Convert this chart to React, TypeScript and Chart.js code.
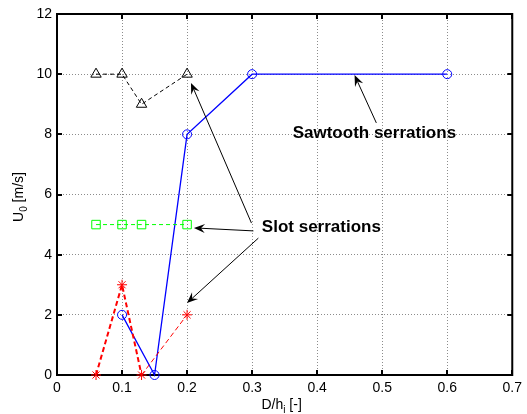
import React, { useEffect, useRef } from "react";
import { Chart, registerables } from "chart.js";

Chart.register(...registerables);

// ---- data ----
const slotX = [0.06, 0.1, 0.13, 0.2];
const slotTriangleU = [10, 10, 9, 10];
const slotSquareU = [5, 5, 5, 5];
const slotStarU = [0, 3, 0, 2];
const sawX = [0.1, 0.15, 0.2, 0.3, 0.6];
const sawU = [2, 0, 8, 10, 10];

const xMin = 0;
const xMax = 0.7;
const xStep = 0.1;
const yMin = 0;
const yMax = 12;
const yStep = 2;

const labelSawtooth = "Sawtooth serrations";
const labelSlot = "Slot serrations";

// annotation anchors in data units
const sawTextPos = { x: 0.488, y: 8.04 };
const slotTextPos = { x: 0.4065, y: 4.92 };
const sawArrows = [{ from: { x: 0.491, y: 8.38 }, to: { x: 0.4575, y: 9.97 } }];
const slotArrows = [
  { from: { x: 0.299, y: 5.05 }, to: { x: 0.206, y: 9.71 } },
  { from: { x: 0.302, y: 4.79 }, to: { x: 0.2105, y: 4.89 } },
  { from: { x: 0.3096, y: 4.55 }, to: { x: 0.1998, y: 2.39 } },
];

const FONT = '"Liberation Sans", Arial, Helvetica, sans-serif';

const pts = (xs: number[], ys: number[]) => xs.map((x, i) => ({ x, y: ys[i] }));

function drawArrow(ctx: CanvasRenderingContext2D, x1: number, y1: number, x2: number, y2: number) {
  const ang = Math.atan2(y2 - y1, x2 - x1);
  const len = 11;
  const half = 4.5;
  const back = 7;
  ctx.save();
  ctx.strokeStyle = "#000";
  ctx.fillStyle = "#000";
  ctx.lineWidth = 1;
  ctx.beginPath();
  ctx.moveTo(x1, y1);
  ctx.lineTo(x2 - Math.cos(ang) * back, y2 - Math.sin(ang) * back);
  ctx.stroke();
  ctx.translate(x2, y2);
  ctx.rotate(ang);
  ctx.beginPath();
  ctx.moveTo(0, 0);
  ctx.lineTo(-len, -half);
  ctx.lineTo(-back, 0);
  ctx.lineTo(-len, half);
  ctx.closePath();
  ctx.fill();
  ctx.restore();
}

const decorPlugin = {
  id: "decor",
  beforeDatasetsDraw(chart: any) {
    const { ctx, chartArea, scales } = chart;
    const { left, right, top, bottom } = chartArea;
    const xs = scales.x;
    const ys = scales.y;
    ctx.save();
    ctx.strokeStyle = "#000";
    ctx.lineWidth = 2;
    ctx.strokeRect(left, top, right - left, bottom - top);
    const tl = 5;
    ctx.beginPath();
    for (let v = xMin; v <= xMax + 1e-9; v += xStep) {
      const px = Math.round(xs.getPixelForValue(v));
      ctx.moveTo(px, bottom);
      ctx.lineTo(px, bottom - tl);
      ctx.moveTo(px, top);
      ctx.lineTo(px, top + tl);
    }
    for (let v = yMin; v <= yMax + 1e-9; v += yStep) {
      const py = Math.round(ys.getPixelForValue(v));
      ctx.moveTo(left, py);
      ctx.lineTo(left + tl, py);
      ctx.moveTo(right, py);
      ctx.lineTo(right - tl, py);
    }
    ctx.stroke();
    ctx.restore();
  },
  afterDraw(chart: any) {
    const { ctx, chartArea, scales } = chart;
    const { left, right } = chartArea;
    const xs = scales.x;
    const ys = scales.y;
    ctx.save();
    // annotations
    const P = (p: { x: number; y: number }) => [xs.getPixelForValue(p.x), ys.getPixelForValue(p.y)];
    [...sawArrows, ...slotArrows].forEach((a) => {
      const [x1, y1] = P(a.from);
      const [x2, y2] = P(a.to);
      drawArrow(ctx, x1, y1, x2, y2);
    });
    ctx.fillStyle = "#000";
    ctx.font = `bold 17px ${FONT}`;
    ctx.textAlign = "center";
    ctx.textBaseline = "middle";
    {
      const [tx, ty] = P(sawTextPos);
      ctx.fillText(labelSawtooth, tx, ty);
      const [sx, sy] = P(slotTextPos);
      ctx.fillText(labelSlot, sx, sy);
    }

    // axis titles
    const mainF = `14px ${FONT}`;
    const subF = `10px ${FONT}`;
    ctx.textAlign = "left";
    ctx.textBaseline = "alphabetic";
    {
      ctx.font = mainF;
      const a = "D/h";
      const c = " [-]";
      const wa = ctx.measureText(a).width;
      const wc = ctx.measureText(c).width;
      ctx.font = subF;
      const wb = ctx.measureText("i").width;
      const total = wa + wb + wc;
      const cx = (left + right) / 2 - 3;
      let x = cx - total / 2;
      const by = 409;
      ctx.font = mainF;
      ctx.fillText(a, x, by);
      x += wa;
      ctx.font = subF;
      ctx.fillText("i", x, by + 4);
      x += wb;
      ctx.font = mainF;
      ctx.fillText(c, x, by);
    }
    {
      ctx.translate(23, 197);
      ctx.rotate(-Math.PI / 2);
      ctx.font = mainF;
      const a = "U";
      const c = " [m/s]";
      const wa = ctx.measureText(a).width;
      const wc = ctx.measureText(c).width;
      ctx.font = subF;
      const wb = ctx.measureText("0").width;
      const total = wa + wb + wc;
      let x = -total / 2;
      ctx.font = mainF;
      ctx.fillText(a, x, 0);
      x += wa;
      ctx.font = subF;
      ctx.fillText("0", x, 4);
      x += wb;
      ctx.font = mainF;
      ctx.fillText(c, x, 0);
    }
    ctx.restore();
  },
};

export default function App() {
  const ref = useRef<HTMLCanvasElement>(null);
  useEffect(() => {
    document.body.style.margin = "0";
    const canvas = ref.current!;
    const chart = new Chart(canvas, {
      type: "line",
      data: {
        datasets: [
          {
            label: "slot triangle",
            data: pts(slotX, slotTriangleU),
            borderColor: "#000",
            backgroundColor: "rgba(0,0,0,0)",
            borderWidth: 1,
            borderDash: [4, 3],
            pointStyle: "triangle",
            pointRadius: 6,
            pointBorderWidth: 1,
            pointBorderColor: "#000",
            pointBackgroundColor: "rgba(0,0,0,0)",
            clip: false,
          },
          {
            label: "slot square",
            data: pts(slotX, slotSquareU),
            borderColor: "#00ff00",
            backgroundColor: "rgba(0,0,0,0)",
            borderWidth: 1,
            borderDash: [4, 3],
            pointStyle: "rect",
            pointRadius: 6,
            pointBorderWidth: 1,
            pointBorderColor: "#00ff00",
            pointBackgroundColor: "rgba(0,0,0,0)",
            clip: false,
          },
          {
            label: "slot star",
            data: pts(slotX, slotStarU),
            borderColor: "#ff0000",
            backgroundColor: "rgba(0,0,0,0)",
            borderWidth: 1,
            borderDash: [5, 3],
            segment: {
              borderWidth: (c: any) => (c.p1DataIndex >= 3 ? 1 : 2),
            },
            pointStyle: "star",
            pointRadius: 5,
            pointBorderWidth: 1,
            pointBorderColor: "#ff0000",
            pointBackgroundColor: "rgba(0,0,0,0)",
            clip: false,
          },
          {
            label: "sawtooth",
            data: pts(sawX, sawU),
            borderColor: "#0000ff",
            backgroundColor: "rgba(0,0,0,0)",
            borderWidth: 1.3,
            pointStyle: "circle",
            pointRadius: 4.5,
            pointBorderWidth: 1,
            pointBorderColor: "#0000ff",
            pointBackgroundColor: "rgba(0,0,0,0)",
            clip: false,
          },
        ],
      },
      options: {
        animation: false,
        responsive: false,
        devicePixelRatio: 1,
        layout: { padding: { top: 14, right: 11, left: 0, bottom: 0 } },
        plugins: { legend: { display: false }, tooltip: { enabled: false }, title: { display: false } },
        scales: {
          x: {
            type: "linear",
            min: xMin,
            max: xMax,
            afterFit: (s: any) => {
              s.height = 39;
            },
            afterBuildTicks: (s: any) => {
              const t = [];
              for (let i = 0; i <= Math.round((xMax - xMin) / xStep); i++) t.push({ value: +(xMin + i * xStep).toFixed(2) });
              s.ticks = t;
            },
            ticks: {
              color: "#000",
              font: { family: FONT, size: 14 },
              padding: 5,
              maxRotation: 0,
              autoSkip: false,
              callback: (v: any) => (v === 0 ? "0" : Number(v).toFixed(1)),
            },
            grid: { color: "#8c8c8c", lineWidth: 1, drawTicks: false },
            border: { display: false, dash: [1, 2] },
          },
          y: {
            type: "linear",
            min: yMin,
            max: yMax,
            afterFit: (s: any) => {
              s.width = 57;
            },
            ticks: {
              stepSize: yStep,
              color: "#000",
              font: { family: FONT, size: 14 },
              padding: 5,
              autoSkip: false,
            },
            grid: { color: "#8c8c8c", lineWidth: 1, drawTicks: false },
            border: { display: false, dash: [1, 2] },
          },
        },
      },
      plugins: [decorPlugin],
    } as any);
    return () => chart.destroy();
  }, []);
  return <canvas ref={ref} width={527} height={414} style={{ display: "block" }} />;
}
